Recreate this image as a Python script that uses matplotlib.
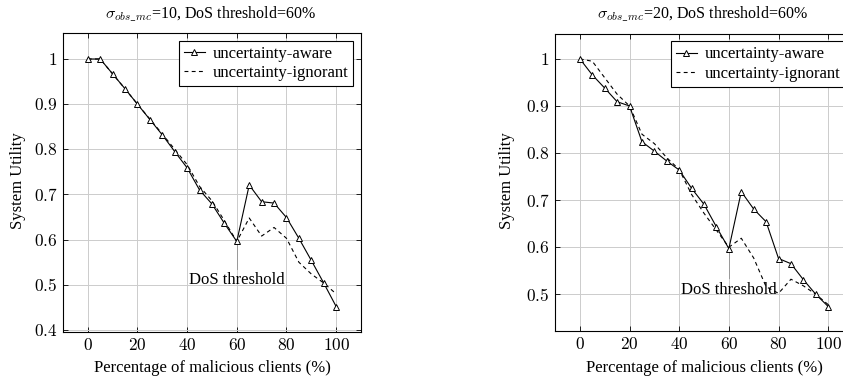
import matplotlib

matplotlib.use("Agg")
import matplotlib.pyplot as plt
from matplotlib.ticker import FuncFormatter

plt.rcParams["font.family"] = ["Liberation Serif", "DejaVu Serif"]
plt.rcParams["mathtext.fontset"] = "cm"

# percentage of malicious clients
pct = [0, 5, 10, 15, 20, 25, 30, 35, 40, 45, 50, 55, 60, 65, 70, 75, 80, 85, 90, 95, 100]

# sigma_obs_mc = 10
aware_10 = [1.0, 1.0, 0.967, 0.934, 0.9, 0.866, 0.832, 0.795, 0.759, 0.710, 0.679, 0.636,
            0.596, 0.721, 0.684, 0.681, 0.649, 0.603, 0.554, 0.504, 0.452]
ignorant_10 = [1.0, 1.0, 0.967, 0.934, 0.9, 0.867, 0.834, 0.800, 0.766, 0.718, 0.686, 0.642,
               0.596, 0.648, 0.608, 0.627, 0.603, 0.550, 0.524, 0.504, 0.480]

# sigma_obs_mc = 20
aware_20 = [1.0, 0.966, 0.938, 0.909, 0.9, 0.824, 0.804, 0.783, 0.764, 0.725, 0.691, 0.643,
            0.597, 0.718, 0.681, 0.654, 0.576, 0.565, 0.531, 0.500, 0.474]
ignorant_20 = [1.0, 0.995, 0.960, 0.925, 0.9, 0.840, 0.820, 0.790, 0.765, 0.712, 0.672, 0.636,
               0.600, 0.619, 0.577, 0.516, 0.502, 0.532, 0.518, 0.500, 0.478]

panels = [
    {"aware": aware_10, "ignorant": ignorant_10, "sigma": 10,
     "rect": [0.0747, 0.1194, 0.3535, 0.793], "ylim": (0.3956, 1.0575),
     "yticks": [0.4, 0.5, 0.6, 0.7, 0.8, 0.9, 1.0], "dos_y": 0.511, "title_x": 0.250,
     "ylabel_x": 0.021},
    {"aware": aware_20, "ignorant": ignorant_20, "sigma": 20,
     "rect": [0.6584, 0.1220, 0.3535, 0.788], "ylim": (0.422, 1.053),
     "yticks": [0.5, 0.6, 0.7, 0.8, 0.9, 1.0], "dos_y": 0.510, "title_x": 0.833,
     "ylabel_x": 0.602},
]


def tick_fmt(v, _pos):
    return f"${v:g}$"


fig = plt.figure(figsize=(8.43, 3.77), dpi=100)

for p in panels:
    ax = fig.add_axes(p["rect"])
    ax.plot(pct, p["aware"], color="black", linewidth=0.8, marker="^", markersize=4.5,
            markerfacecolor="white", markeredgecolor="black", markeredgewidth=0.7,
            label="uncertainty-aware", zorder=3)
    ax.plot(pct, p["ignorant"], color="black", linewidth=0.8, linestyle=(0, (3.5, 3)),
            label="uncertainty-ignorant", zorder=2)

    # DoS threshold pin
    i60 = pct.index(60)
    y60 = min(p["aware"][i60], p["ignorant"][i60])
    ax.plot([60, 60], [y60, p["dos_y"] + 0.025], color="#999999", linewidth=0.7, zorder=1)
    ax.text(60, p["dos_y"], "DoS threshold", ha="center", va="center", fontsize=12,
            zorder=4)

    ax.set_xlim(-10, 110)
    ax.set_ylim(*p["ylim"])
    ax.set_xticks([0, 20, 40, 60, 80, 100])
    ax.set_yticks(p["yticks"])
    ax.xaxis.set_major_formatter(FuncFormatter(tick_fmt))
    ax.yaxis.set_major_formatter(FuncFormatter(tick_fmt))
    ax.tick_params(direction="in", length=3.5, width=0.6, labelsize=12.5, top=True,
                   right=True, pad=4)
    ax.grid(True, color="#cccccc", linewidth=0.7)
    ax.set_axisbelow(True)
    for s in ax.spines.values():
        s.set_linewidth(0.8)

    ax.set_xlabel("Percentage of malicious clients (%)", fontsize=12, labelpad=5)
    fig.text(p["ylabel_x"], 0.52, "System Utility", rotation=90, ha="center", va="center",
             fontsize=12)

    leg = ax.legend(loc="upper right", fontsize=12, frameon=True, fancybox=False,
                    framealpha=1, edgecolor="black", handlelength=1.3, borderpad=0.3,
                    labelspacing=0.2, handletextpad=0.45, borderaxespad=0.45)
    leg.get_frame().set_linewidth(0.8)

    fig.text(p["title_x"], 0.962,
             r"$\sigma_{obs\_mc}$" + f"={p['sigma']}, DoS threshold=60%",
             ha="center", va="center", fontsize=11.5)

fig.savefig("out.png", dpi=100)
